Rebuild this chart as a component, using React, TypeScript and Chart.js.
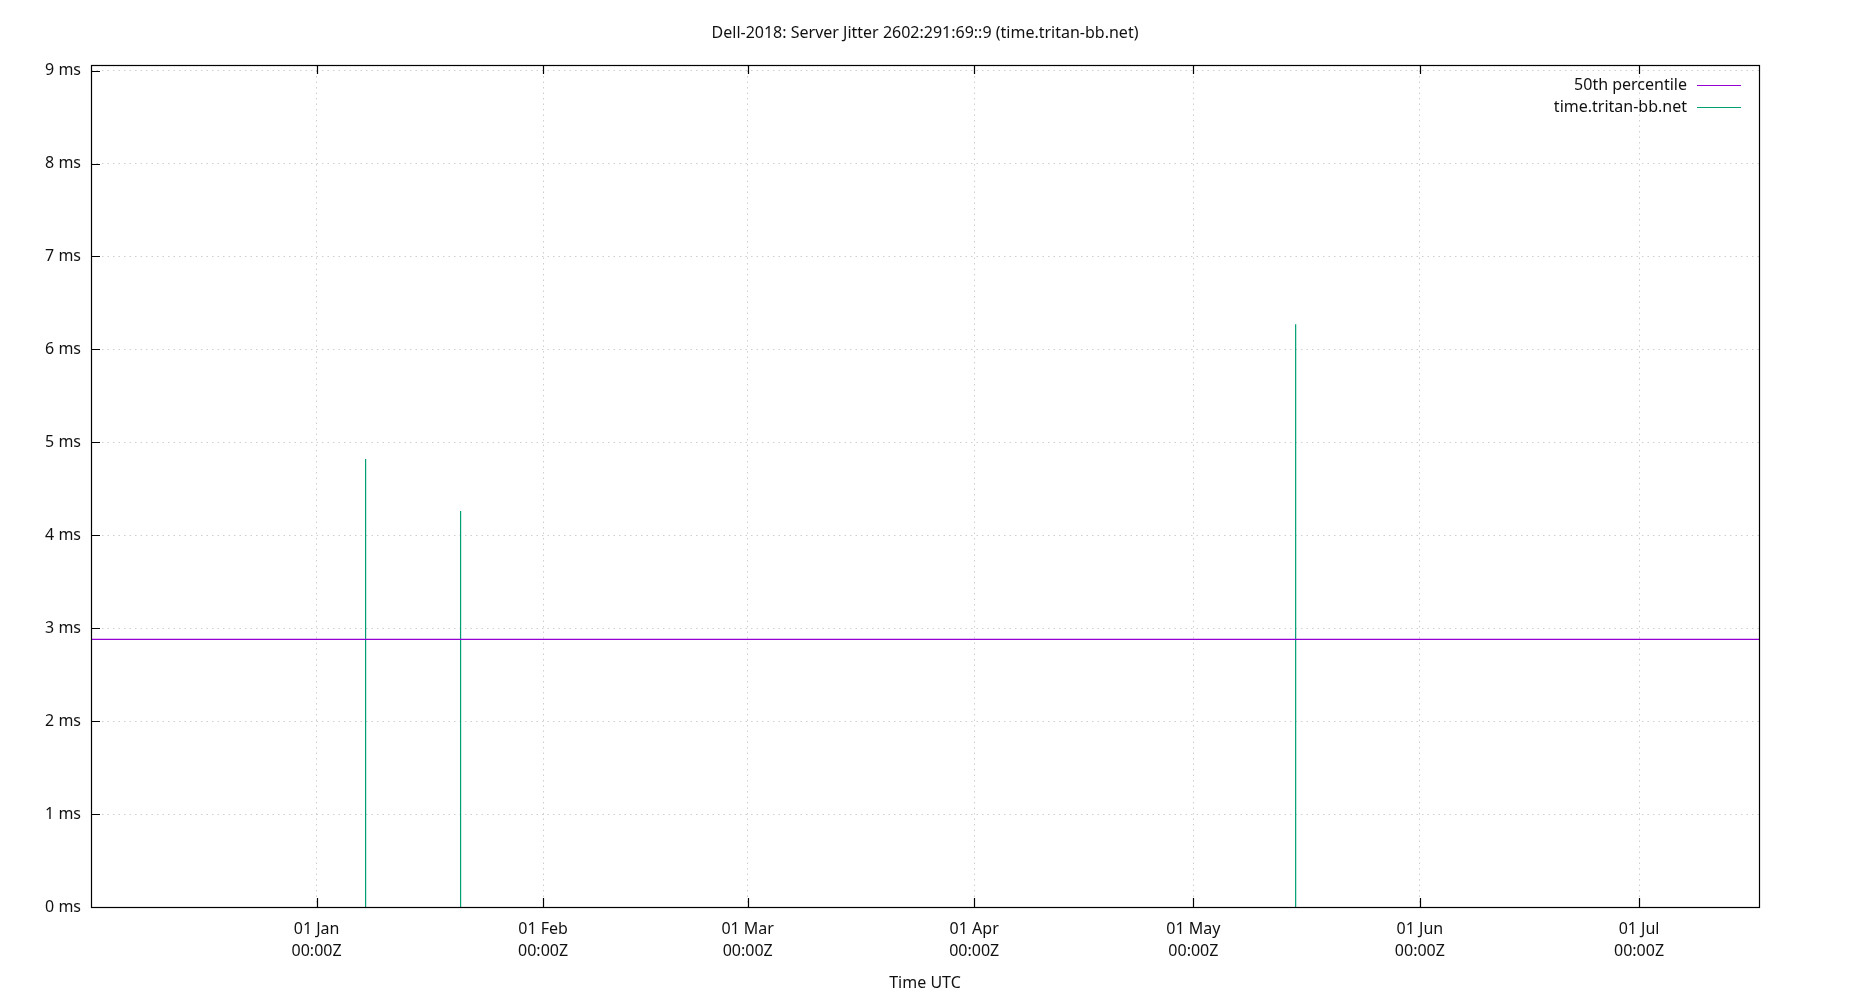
import React, { useRef, useEffect } from 'react';
import Chart from 'chart.js/auto';

// Values (gnuplot-style jitter plot)
const chartTitle = 'Dell-2018: Server Jitter 2602:291:69::9 (time.tritan-bb.net)';
const xRange = ['2018-12-01T03:00:00Z', '2019-07-17T10:00:00Z'];
const monthTicks = [
  '2019-01-01T00:00:00Z',
  '2019-02-01T00:00:00Z',
  '2019-03-01T00:00:00Z',
  '2019-04-01T00:00:00Z',
  '2019-05-01T00:00:00Z',
  '2019-06-01T00:00:00Z',
  '2019-07-01T00:00:00Z',
];
const monthLabels = ['01 Jan', '01 Feb', '01 Mar', '01 Apr', '01 May', '01 Jun', '01 Jul'];
const yTicksMs = [0, 1, 2, 3, 4, 5, 6, 7, 8, 9];
const yMaxMs = 9.06;

const spikeTimes = ['2019-01-07T17:00:00Z', '2019-01-20T17:00:00Z', '2019-05-15T00:00:00Z'];
const spikeJitterMs = [4.82, 4.26, 6.27];
const percentile50Ms = 2.88;

const seriesLabels = ['50th percentile', 'time.tritan-bb.net'];
const seriesColors = ['#9400d3', '#009e73'];

const FONT = '"Noto Sans", "Open Sans", sans-serif';
const FONT_SIZE = 16;

const toMs = (s: string) => new Date(s).getTime();

// Draws the gnuplot-like frame, inward ticks, title and key
const gnuplotFrame = {
  id: 'gnuplotFrame',
  afterDatasetsDraw(chart: any) {
    const { ctx, chartArea, scales } = chart;
    const { left, right, top, bottom } = chartArea;
    const x = scales.x;
    const y = scales.y;
    ctx.save();
    ctx.strokeStyle = '#000';
    ctx.lineWidth = 1.2;
    ctx.beginPath();
    y.ticks.forEach((t: any) => {
      const py = Math.round(y.getPixelForValue(t.value)) + 0.5;
      ctx.moveTo(left, py);
      ctx.lineTo(left + 9, py);
    });
    x.ticks.forEach((t: any) => {
      const px = Math.round(x.getPixelForValue(t.value)) + 0.5;
      ctx.moveTo(px, bottom);
      ctx.lineTo(px, bottom - 9);
      ctx.moveTo(px, top);
      ctx.lineTo(px, top + 9);
    });
    ctx.stroke();
    ctx.strokeRect(Math.round(left) + 0.5, Math.round(top) + 0.5, Math.round(right - left), Math.round(bottom - top));

    ctx.fillStyle = '#111';
    ctx.font = `${FONT_SIZE}px ${FONT}`;
    ctx.textBaseline = 'middle';
    ctx.textAlign = 'center';
    ctx.fillText(chartTitle, chart.width / 2, 33);

    ctx.textAlign = 'right';
    seriesLabels.forEach((label, i) => {
      const ly = top + 20 + i * 22;
      ctx.fillStyle = '#111';
      ctx.fillText(label, right - 72, ly);
      ctx.strokeStyle = seriesColors[i];
      ctx.lineWidth = 1.2;
      ctx.beginPath();
      ctx.moveTo(right - 62, Math.round(ly) + 0.5);
      ctx.lineTo(right - 18, Math.round(ly) + 0.5);
      ctx.stroke();
    });
    ctx.restore();
  },
};

const App: React.FC = () => {
  const canvasRef = useRef<HTMLCanvasElement>(null);
  const chartInstance = useRef<Chart | null>(null);

  useEffect(() => {
    if (!canvasRef.current) return;
    const ctx = canvasRef.current.getContext('2d');
    if (!ctx) return;

    if (chartInstance.current) {
      chartInstance.current.destroy();
    }

    const xMin = toMs(xRange[0]);
    const xMax = toMs(xRange[1]);
    const tickValues = monthTicks.map(toMs);

    const spikeData = spikeTimes.flatMap((t, i) => [
      { x: toMs(t), y: 0 },
      { x: toMs(t), y: spikeJitterMs[i] },
      { x: toMs(t), y: null },
    ]);

    const gridColor = 'rgba(160, 160, 160, 0.5)';

    chartInstance.current = new Chart(ctx, {
      type: 'line',
      data: {
        datasets: [
          {
            label: seriesLabels[0],
            data: [
              { x: xMin, y: percentile50Ms },
              { x: xMax, y: percentile50Ms },
            ],
            borderColor: seriesColors[0],
            borderWidth: 1.2,
            pointRadius: 0,
          },
          {
            label: seriesLabels[1],
            data: spikeData as any,
            borderColor: seriesColors[1],
            borderWidth: 1.2,
            pointRadius: 0,
            spanGaps: false,
          },
        ],
      },
      plugins: [gnuplotFrame],
      options: {
        responsive: true,
        maintainAspectRatio: false,
        animation: false,
        parsing: false,
        layout: { padding: { top: 65, right: 91, left: 0, bottom: 0 } },
        plugins: {
          legend: { display: false },
          title: { display: false },
          tooltip: { enabled: false },
        },
        scales: {
          x: {
            type: 'linear',
            min: xMin,
            max: xMax,
            afterBuildTicks: (scale: any) => {
              scale.ticks = tickValues.map((v) => ({ value: v }));
            },
            afterFit: (scale: any) => {
              scale.height = 93;
            },
            ticks: {
              autoSkip: false,
              maxRotation: 0,
              padding: 11,
              color: '#111',
              font: { family: FONT, size: FONT_SIZE, lineHeight: 1.375 },
              callback: (_v: any, i: number) => [monthLabels[i], '00:00Z'],
            },
            grid: {
              color: gridColor,
              lineWidth: 1,
              drawTicks: false,
            },
            border: { display: false, dash: [1.5, 4] },
            title: {
              display: true,
              text: 'Time UTC',
              color: '#111',
              font: { family: FONT, size: FONT_SIZE },
              padding: { top: 4, bottom: 7 },
            },
          },
          y: {
            type: 'linear',
            min: 0,
            max: yMaxMs,
            afterBuildTicks: (scale: any) => {
              scale.ticks = yTicksMs.map((v) => ({ value: v }));
            },
            afterFit: (scale: any) => {
              scale.width = 91;
            },
            ticks: {
              padding: 10,
              color: '#111',
              font: { family: FONT, size: FONT_SIZE },
              callback: (v: any) => `${v} ms`,
            },
            grid: {
              color: gridColor,
              lineWidth: 1,
              drawTicks: false,
            },
            border: { display: false, dash: [1.5, 4] },
          },
        },
      },
    });

    return () => {
      if (chartInstance.current) {
        chartInstance.current.destroy();
        chartInstance.current = null;
      }
    };
  }, []);

  return (
    <div style={{ position: 'absolute', left: 0, top: 0, width: '1850px', height: '1000px', background: '#fff' }}>
      <canvas ref={canvasRef} />
    </div>
  );
};

export default App;
